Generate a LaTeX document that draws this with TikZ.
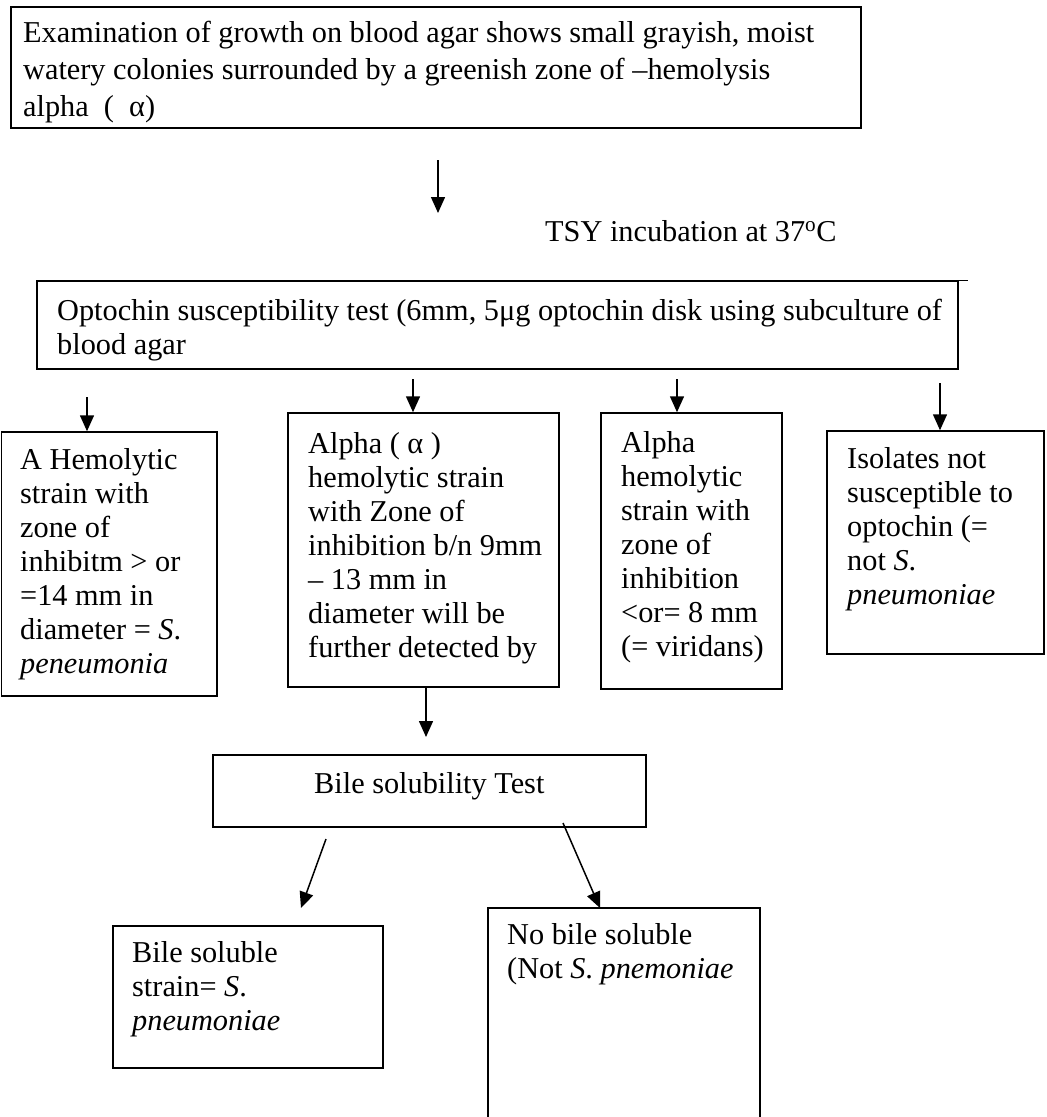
\documentclass[tikz,border=0pt]{standalone}
\usepackage{fontspec}
\setmainfont{Liberation Serif}
\usetikzlibrary{arrows.meta}
\begin{document}
\begin{tikzpicture}[x=1pt,y=-1pt,
  box/.style={draw, line width=1.5pt, inner sep=0pt, rectangle},
  txt/.style={anchor=north west, inner sep=0pt, align=left, font=\fontsize{30.3}{34}\selectfont},
  arr/.style={-{Triangle[length=16pt,width=14pt]}, line width=1.5pt}]
\useasboundingbox (0,0) rectangle (1047,1117);
% boxes
\node[box, minimum width=850pt, minimum height=121pt] (top) at (436,67.5) {};
\node[box, minimum width=921pt, minimum height=88pt] (opt) at (497.5,325) {};
\node[box, minimum width=215.5pt, minimum height=264pt] (ba) at (109.25,564) {};
\node[box, minimum width=271pt, minimum height=274pt] (bb) at (423.5,550) {};
\node[box, minimum width=181pt, minimum height=276pt] (bc) at (691.5,551) {};
\node[box, minimum width=217pt, minimum height=223pt] (bd) at (935.5,542.5) {};
\node[box, minimum width=433pt, minimum height=72pt] (bile) at (429.5,791) {};
\node[box, minimum width=270pt, minimum height=142pt] (bl) at (248,997) {};
\node[box, minimum width=272pt, minimum height=222pt] (br) at (624,1019) {};
% extra top line over optochin box
\coordinate (ls) at (137,280.5);
\coordinate (le) at (968,280.5);
\draw[line width=1.8pt] (ls) -- (le);
% texts
\node[txt, font=\fontsize{30.3}{37}\selectfont] (ttop) at (23,16.1) {\strut Examination of growth on blood agar shows small grayish, moist\\watery colonies surrounded by a greenish zone of –hemolysis\\alpha\ \ (\ \ α)};
\node[anchor=base west, inner sep=0pt, font=\fontsize{30.3}{34}\selectfont] (tsy) at (545,241) {TSY incubation at 37\textsuperscript{o}C};
\node[txt] (topt) at (57,296.2) {\strut Optochin susceptibility test (6mm, 5μg optochin disk using subculture of\\blood agar};
\node[txt] (ta) at (20,445.2) {\strut A Hemolytic\\strain with\\zone of\\inhibitm > or\\=14 mm in\\diameter = \textit{S}.\\\textit{peneumonia}};
\node[txt] (tb) at (308,429.2) {\strut Alpha ( α )\\hemolytic strain\\with Zone of\\inhibition b/n 9mm\\– 13 mm in\\diameter will be\\further detected by};
\node[txt] (tc) at (621,428.2) {\strut Alpha\\hemolytic\\strain with\\zone of\\inhibition\\<or= 8 mm\\(= viridans)};
\node[txt] (td) at (847,444.2) {\strut Isolates not\\susceptible to\\optochin (=\\not \textit{S}.\\\textit{pneumoniae}};
\node[anchor=base west, inner sep=0pt, font=\fontsize{30.3}{34}\selectfont] (tbile) at (314,793) {Bile solubility Test};
\node[txt] (tbl) at (132,938.2) {\strut Bile soluble\\strain= \textit{S}.\\\textit{pneumoniae}};
\node[txt] (tbr) at (507,920.2) {\strut No bile soluble\\(Not \textit{S}. \textit{pnemoniae}};
% arrows
\coordinate (a0s) at (438,160);
\coordinate (a0e) at (438,213);
\draw[arr] (a0s) -- (a0e);
\coordinate (aAs) at (87,397);
\draw[arr] (aAs) -- (aAs |- ba.north);
\coordinate (aBs) at (413,379);
\draw[arr] (aBs) -- (aBs |- bb.north);
\coordinate (aCs) at (677,379);
\draw[arr] (aCs) -- (aCs |- bc.north);
\coordinate (aDs) at (940,383);
\draw[arr] (aDs) -- (aDs |- bd.north);
\coordinate (aEs) at (426,687);
\coordinate (aEe) at (426,737);
\draw[arr] (aEs) -- (aEe);
\coordinate (aLs) at (326,839);
\coordinate (aLe) at (301,908);
\draw[arr] (aLs) -- (aLe);
\coordinate (aRs) at (563,823);
\coordinate (aRe) at (600,908);
\draw[arr] (aRs) -- (aRe);
\end{tikzpicture}
\end{document}
